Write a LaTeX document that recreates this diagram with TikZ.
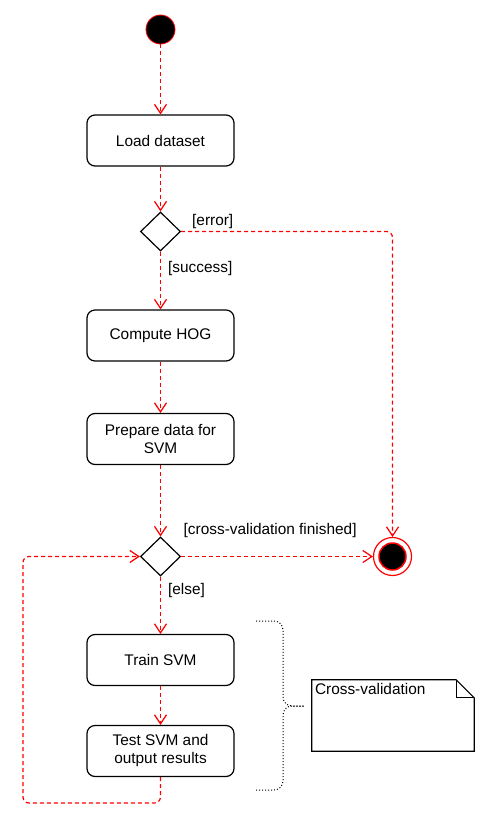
\documentclass[tikz,border=0pt]{standalone}
\usepackage{fontspec}
\setmainfont{Liberation Sans}
\usetikzlibrary{arrows.meta,shapes.geometric}

\begin{document}
\begin{tikzpicture}[x=1pt, y=-1pt,
    every node/.style={font=\fontsize{15.4}{18}\selectfont},
    action/.style={draw, rounded corners=8pt, line width=1.2pt, minimum width=147pt, minimum height=51pt, align=center},
    choice/.style={draw, diamond, line width=1.2pt, minimum width=40pt, minimum height=39pt, inner sep=0pt},
    flow/.style={draw=red, line width=1.2pt, dash pattern=on 4pt off 3pt, rounded corners=6pt, -{Straight Barb[length=9pt,width=12pt]}},
    guard/.style={inner sep=2pt}]
      \useasboundingbox (0,0) rectangle (486,827);
      \node[circle, fill=black, draw=red, line width=0.8pt, minimum size=29pt, inner sep=0pt] (start) at (160.5,29.5) {};
      \node[action] (load) at (160.5,140.5) {Load dataset};
      \node[choice] (check) at (160.5,231.5) {};
      \node[action] (hog) at (160.5,335.5) {Compute HOG};
      \node[action] (prep) at (160.5,439) {Prepare data for\\SVM};
      \node[choice] (cv) at (160.5,556.5) {};
      \node[action] (train) at (160.5,660) {Train SVM};
      \node[action] (test) at (160.5,751) {Test SVM and\\output results};
      \node[circle, draw=red, line width=1.2pt, minimum size=38pt, inner sep=0pt] (stop) at (392.5,556.5) {};
      \node[circle, fill=black, draw=red, line width=1.5pt, minimum size=27pt, inner sep=0pt] (stopdot) at (stop) {};
      \coordinate (loopturn) at (23,803);
      \node[minimum width=162pt, minimum height=71pt, inner sep=0pt] (note) at (393,715.5) {};
      \node[anchor=north west, inner sep=3pt] (notetext) at (note.north west) {Cross-validation};

      \draw[flow] (start) -- (load);
      \draw[flow] (load) -- (check);
      \draw[flow] (check) -- node[guard, right=5pt, pos=0.3]{[success]} (hog);
      \draw[flow] (check.east) -| node[guard, above right, pos=0.02]{[error]} (stop.north);
      \draw[flow] (hog) -- (prep);
      \draw[flow] (prep) -- (cv.north);
      \draw[flow] (cv.east) -- node[guard, above right, pos=0, yshift=16pt]{[cross-validation finished]} (stop.west);
      \draw[flow] (cv.south) -- node[guard, right=5pt, pos=0.25]{[else]} (train);
      \draw[flow] (train) -- (test);
      \draw[flow] (test.south) |- (loopturn) |- (cv.west);

      \draw[line width=1pt, dotted, rounded corners=9pt] (256,621) -| (283,706) -- (304,706);
      \draw[line width=1pt, dotted, rounded corners=9pt] (256,790) -| (283,706) -- (304,706);
      \draw[line width=1.2pt] (note.north west) -- ([xshift=-18pt]note.north east) -- ([yshift=-18pt]note.north east) -- (note.south east) -- (note.south west) -- cycle;
      \draw[line width=1.2pt] ([xshift=-18pt]note.north east) -- ([xshift=-18pt,yshift=-18pt]note.north east) -- ([yshift=-18pt]note.north east);
    \end{tikzpicture}
\end{document}
